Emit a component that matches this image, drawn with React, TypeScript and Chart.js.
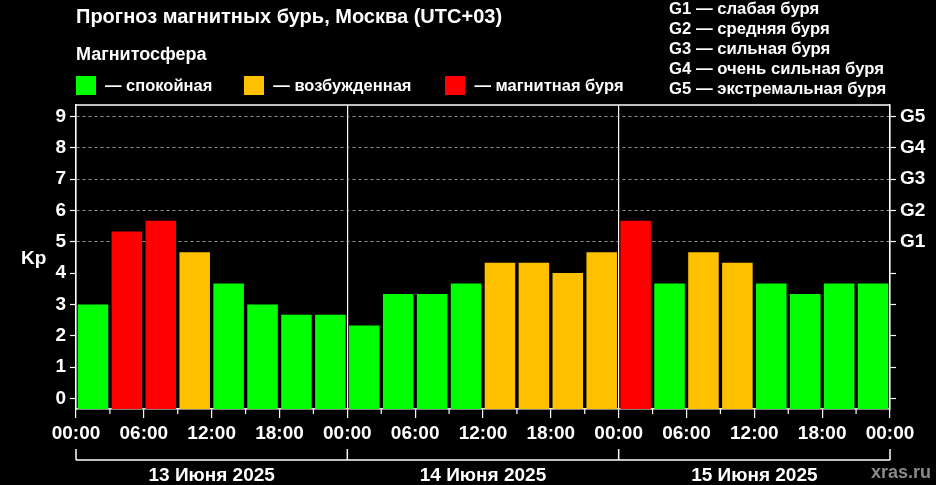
import { useEffect, useRef } from 'react';
import { Chart, registerables } from 'chart.js';

Chart.register(...registerables);

// Kp forecast, three-hour slots, Moscow time
const days = ['13 Июня 2025', '14 Июня 2025', '15 Июня 2025'];
const slotStarts = [0, 3, 6, 9, 12, 15, 18, 21];
const kpDay13 = [3.0, 5.33, 5.67, 4.67, 3.67, 3.0, 2.67, 2.67];
const kpDay14 = [2.33, 3.33, 3.33, 3.67, 4.33, 4.33, 4.0, 4.67];
const kpDay15 = [5.67, 3.67, 4.67, 4.33, 3.67, 3.33, 3.67, 3.67];
const kpTicks = [0, 1, 2, 3, 4, 5, 6, 7, 8, 9];
const gTickLabels = ['', '', '', '', '', 'G1', 'G2', 'G3', 'G4', 'G5'];
const gLegend = [
  'G1 — слабая буря',
  'G2 — средняя буря',
  'G3 — сильная буря',
  'G4 — очень сильная буря',
  'G5 — экстремальная буря'
];
const legendItems = [
  { color: '#00ff00', label: '— спокойная' },
  { color: '#ffc000', label: '— возбужденная' },
  { color: '#ff0000', label: '— магнитная буря' }
];

const FONT = "'Liberation Sans', Arial, sans-serif";
const WHITE = '#ffffff';
const Y_MIN = -0.34;
const Y_MAX = 9.37;

function kpColor(v: number) {
  if (v >= 5) return '#ff0000';
  if (v >= 4) return '#ffc000';
  return '#00ff00';
}

function hh(v: number) {
  const h = v % 24;
  return (h < 10 ? '0' : '') + h + ':00';
}

const framePlugin = {
  id: 'frame',
  afterDraw(chart: any) {
    const { ctx, chartArea, scales } = chart;
    const x = scales.x;
    const xd = scales.xDays;
    ctx.save();
    ctx.strokeStyle = WHITE;
    ctx.lineWidth = 1.5;
    // top edge of the frame
    ctx.beginPath();
    ctx.moveTo(chartArea.left, chartArea.top);
    ctx.lineTo(chartArea.right, chartArea.top);
    ctx.stroke();
    // short ticks on 3h boundaries
    ctx.lineWidth = 1.2;
    x.ticks.forEach((t: any) => {
      if (t.value % 6 === 0) return;
      const px = x.getPixelForValue(t.value);
      ctx.beginPath();
      ctx.moveTo(px, chartArea.bottom);
      ctx.lineTo(px, chartArea.bottom + 5);
      ctx.stroke();
    });
    // day bracket
    const yLine = xd.top + 11;
    ctx.lineWidth = 1.5;
    ctx.beginPath();
    ctx.moveTo(x.getPixelForValue(0), yLine);
    ctx.lineTo(x.getPixelForValue(days.length * 24), yLine);
    ctx.stroke();
    for (let d = 0; d <= days.length; d++) {
      const px = x.getPixelForValue(d * 24);
      ctx.beginPath();
      ctx.moveTo(px, xd.top);
      ctx.lineTo(px, yLine);
      ctx.stroke();
    }
    ctx.restore();
  }
};

export default function App() {
  const canvasRef = useRef<HTMLCanvasElement>(null);
  const chartRef = useRef<Chart | null>(null);

  useEffect(() => {
    document.body.style.margin = '0';
    document.body.style.background = '#000';
    if (!canvasRef.current) return;
    const ctx = canvasRef.current.getContext('2d');
    if (!ctx) return;
    if (chartRef.current) chartRef.current.destroy();

    const allDays = [kpDay13, kpDay14, kpDay15];
    const points: { x: number; y: number }[] = [];
    allDays.forEach((vals, d) => {
      vals.forEach((v, i) => {
        points.push({ x: d * 24 + slotStarts[i] + 1.5, y: v });
      });
    });

    chartRef.current = new Chart(ctx, {
      type: 'bar',
      data: {
        datasets: [
          {
            data: points,
            backgroundColor: points.map((p) => kpColor(p.y)),
            borderWidth: 0,
            base: Y_MIN,
            barPercentage: 0.9,
            categoryPercentage: 1
          }
        ]
      },
      options: {
        responsive: false,
        animation: false,
        devicePixelRatio: 1,
        layout: { padding: { top: 105, left: 0, right: 0, bottom: 0 } },
        plugins: {
          legend: { display: false },
          tooltip: { enabled: false }
        },
        scales: {
          x: {
            type: 'linear',
            offset: false,
            min: 0,
            max: days.length * 24,
            weight: 0,
            afterFit: (s: any) => {
              s.height = 40;
            },
            afterBuildTicks: (s: any) => {
              const t: any[] = [];
              for (let d = 0; d <= days.length; d++) {
                slotStarts.forEach((h) => {
                  if (d === days.length && h > 0) return;
                  t.push({ value: d * 24 + h });
                });
              }
              s.ticks = t;
            },
            ticks: {
              autoSkip: false,
              maxRotation: 0,
              color: WHITE,
              padding: 4,
              font: { family: FONT, size: 19, weight: 'bold' },
              callback: (v: any) => (Number(v) % 6 === 0 ? hh(Number(v)) : '')
            },
            grid: {
              offset: false,
              drawOnChartArea: true,
              color: (c: any) =>
                c.tick && c.tick.value % 24 === 0 ? WHITE : 'transparent',
              lineWidth: 1.2,
              tickColor: (c: any) =>
                c.tick && c.tick.value % 6 === 0 ? WHITE : 'transparent',
              tickLength: 9,
              tickWidth: 1.2
            },
            border: { display: true, color: WHITE, width: 1.5 }
          },
          xDays: {
            type: 'linear',
            axis: 'x',
            position: 'bottom',
            offset: false,
            min: 0,
            max: days.length * 24,
            weight: 1,
            afterFit: (s: any) => {
              s.height = 36;
            },
            afterBuildTicks: (s: any) => {
              s.ticks = days.map((_, d) => ({ value: d * 24 + 12 }));
            },
            ticks: {
              autoSkip: false,
              maxRotation: 0,
              color: WHITE,
              padding: 7,
              font: { family: FONT, size: 19, weight: 'bold' },
              callback: (v: any) => days[Math.floor(Number(v) / 24)]
            },
            grid: { display: false, offset: false },
            border: { display: false }
          },
          y: {
            position: 'left',
            min: Y_MIN,
            max: Y_MAX,
            afterFit: (s: any) => {
              s.width = 76;
            },
            afterBuildTicks: (s: any) => {
              s.ticks = kpTicks.map((v) => ({ value: v }));
            },
            ticks: {
              color: WHITE,
              padding: 4,
              font: { family: FONT, size: 19, weight: 'bold' },
              callback: (v: any) => String(v)
            },
            grid: {
              color: (c: any) =>
                c.tick && c.tick.value >= 5 ? 'rgba(170,170,170,0.85)' : 'transparent',
              lineWidth: 1,
              tickColor: WHITE,
              tickLength: 6,
              tickWidth: 1.2
            },
            border: { display: true, color: WHITE, width: 1.5, dash: [3, 3] }
          },
          y2: {
            position: 'right',
            min: Y_MIN,
            max: Y_MAX,
            afterFit: (s: any) => {
              s.width = 46;
            },
            afterBuildTicks: (s: any) => {
              s.ticks = kpTicks.map((v) => ({ value: v }));
            },
            ticks: {
              color: WHITE,
              padding: 4,
              font: { family: FONT, size: 19, weight: 'bold' },
              callback: (v: any) => gTickLabels[Number(v)] ?? ''
            },
            grid: {
              drawOnChartArea: false,
              tickColor: WHITE,
              tickLength: 6,
              tickWidth: 1.2
            },
            border: { display: true, color: WHITE, width: 1.5 }
          }
        }
      } as any,
      plugins: [framePlugin]
    });

    return () => {
      if (chartRef.current) {
        chartRef.current.destroy();
        chartRef.current = null;
      }
    };
  }, []);

  const text = (size: number, extra: any = {}) => ({
    position: 'absolute' as const,
    fontFamily: FONT,
    fontWeight: 'bold' as const,
    fontSize: size,
    lineHeight: '1',
    color: WHITE,
    whiteSpace: 'nowrap' as const,
    ...extra
  });

  return (
    <div style={{ position: 'relative', width: 936, height: 485, background: '#000' }}>
      <canvas ref={canvasRef} width={936} height={485} style={{ display: 'block' }} />
      <div style={text(20, { left: 76, top: 6 })}>
        Прогноз магнитных бурь, Москва (UTC+03)
      </div>
      <div style={text(18, { left: 76, top: 45 })}>Магнитосфера</div>
      <div style={{ position: 'absolute', left: 76, top: 76, display: 'flex', alignItems: 'center' }}>
        {legendItems.map((it, i) => (
          <div key={i} style={{ display: 'flex', alignItems: 'center', marginRight: i === 0 ? 32 : 34 }}>
            <span style={{ display: 'inline-block', width: 20, height: 19, background: it.color }} />
            <span style={{ ...text(16.5), position: 'static', marginLeft: 9 }}>{it.label}</span>
          </div>
        ))}
      </div>
      <div style={text(16.7, { left: 669, top: -1, lineHeight: '20px' })}>
        {gLegend.map((g) => (
          <div key={g}>{g}</div>
        ))}
      </div>
      <div style={text(19, { left: 21, top: 248 })}>Kp</div>
      <div style={text(18, { left: 871, top: 463, color: '#8a8a8a' })}>xras.ru</div>
    </div>
  );
}
